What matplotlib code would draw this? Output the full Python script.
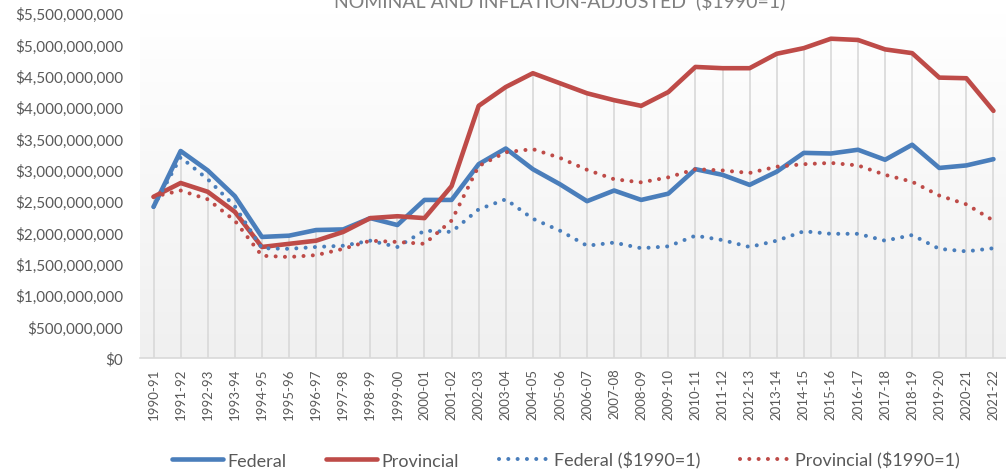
import numpy as np
import matplotlib
matplotlib.use("Agg")
import matplotlib.pyplot as plt
from matplotlib.colors import LinearSegmentedColormap
from matplotlib.ticker import FuncFormatter

plt.rcParams['font.family'] = ['Lato', 'DejaVu Sans']

years = ["1990-91", "1991-92", "1992-93", "1993-94", "1994-95", "1995-96",
         "1996-97", "1997-98", "1998-99", "1999-00", "2000-01", "2001-02",
         "2002-03", "2003-04", "2004-05", "2005-06", "2006-07", "2007-08",
         "2008-09", "2009-10", "2010-11", "2011-12", "2012-13", "2013-14",
         "2014-15", "2015-16", "2016-17", "2017-18", "2018-19", "2019-20",
         "2020-21", "2021-22"]

# billions of dollars
federal = [2.41, 3.30, 2.99, 2.58, 1.93, 1.95, 2.04, 2.05, 2.23, 2.12, 2.52, 2.52,
           3.09, 3.34, 3.01, 2.77, 2.50, 2.67, 2.52, 2.62, 3.01, 2.92, 2.76, 2.97,
           3.27, 3.26, 3.32, 3.16, 3.40, 3.03, 3.07, 3.17]
provincial = [2.57, 2.79, 2.65, 2.33, 1.77, 1.82, 1.87, 2.01, 2.23, 2.26, 2.23, 2.74,
              4.02, 4.32, 4.54, 4.38, 4.22, 4.11, 4.02, 4.24, 4.64, 4.62, 4.62, 4.85,
              4.94, 5.09, 5.07, 4.92, 4.86, 4.47, 4.46, 3.94]
federal_real = [2.41, 3.20, 2.85, 2.42, 1.75, 1.74, 1.77, 1.79, 1.87, 1.77, 2.03, 2.01,
                2.37, 2.53, 2.22, 2.03, 1.79, 1.84, 1.75, 1.78, 1.95, 1.88, 1.77, 1.87,
                2.02, 1.98, 1.98, 1.87, 1.96, 1.74, 1.70, 1.75]
provincial_real = [2.57, 2.67, 2.53, 2.19, 1.63, 1.61, 1.64, 1.74, 1.87, 1.85, 1.82, 2.19,
                   3.06, 3.28, 3.33, 3.19, 3.00, 2.85, 2.80, 2.88, 3.01, 2.99, 2.95, 3.05,
                   3.09, 3.11, 3.07, 2.92, 2.81, 2.59, 2.45, 2.19]

BLUE = "#4A7EBB"
RED = "#BE4B48"
GRAY_TXT = "#595959"

x = np.arange(len(years))
fed = np.array(federal) * 1e9
prov = np.array(provincial) * 1e9
fed_r = np.array(federal_real) * 1e9
prov_r = np.array(provincial_real) * 1e9

fig = plt.figure(figsize=(10.06, 4.77), dpi=100)
ax = fig.add_axes([140 / 1006, 1 - 359 / 477, 867 / 1006, 345 / 477])

# plot area gradient (white top -> light gray bottom)
cmap = LinearSegmentedColormap.from_list("bg", ["#F0F0F0", "#FFFFFF"])
grad = np.linspace(0, 1, 256).reshape(-1, 1)
ax.imshow(grad, cmap=cmap, aspect='auto', extent=[0, 1, 0, 1], origin='lower',
          transform=ax.transAxes, zorder=0)

# drop lines from highest series down to axis
top = np.max(np.vstack([fed, prov, fed_r, prov_r]), axis=0)
ax.vlines(x, 0, top, color="#D9D9D9", linewidth=1.2, zorder=1)

ax.plot(x, fed, color=BLUE, lw=3.3, label="Federal", zorder=3,
        solid_joinstyle='round', solid_capstyle='round')
ax.plot(x, prov, color=RED, lw=3.3, label="Provincial", zorder=3,
        solid_joinstyle='round', solid_capstyle='round')
ax.plot(x, fed_r, color=BLUE, lw=2.9, linestyle=(0, (0.01, 2.3)),
        dash_capstyle='round', label="Federal ($1990=1)", zorder=4)
ax.plot(x, prov_r, color=RED, lw=2.9, linestyle=(0, (0.01, 2.3)),
        dash_capstyle='round', label="Provincial ($1990=1)", zorder=4)

ax.set_xlim(-0.5, len(years) - 0.5)
ax.set_ylim(0, 5.5e9)
ax.set_yticks(np.arange(0, 5.5e9 + 1, 5e8))
ax.yaxis.set_major_formatter(FuncFormatter(lambda v, p: "${:,.0f}".format(v)))
ax.set_xticks(x)
ax.set_xticklabels(years, rotation=90)
ax.tick_params(axis='y', length=0, pad=12, labelsize=11, labelcolor=GRAY_TXT)
ax.tick_params(axis='x', length=0, pad=7, labelsize=9.5, labelcolor=GRAY_TXT)

for s in ['top', 'right', 'left']:
    ax.spines[s].set_visible(False)
ax.spines['bottom'].set_color("#D9D9D9")
ax.spines['bottom'].set_linewidth(1.2)

fig.text(560 / 1006, 1 - 7 / 477, "NOMINAL AND INFLATION-ADJUSTED  ($1990=1)",
         ha='center', va='baseline', fontsize=14, color="#7F7F7F")

fig.legend(loc='center', bbox_to_anchor=(566 / 1006, 1 - 461 / 477), ncol=4,
           frameon=False, fontsize=13, handlelength=2.8, handletextpad=0.25,
           columnspacing=2.2, labelcolor=GRAY_TXT)

fig.savefig("out.png", dpi=100)
